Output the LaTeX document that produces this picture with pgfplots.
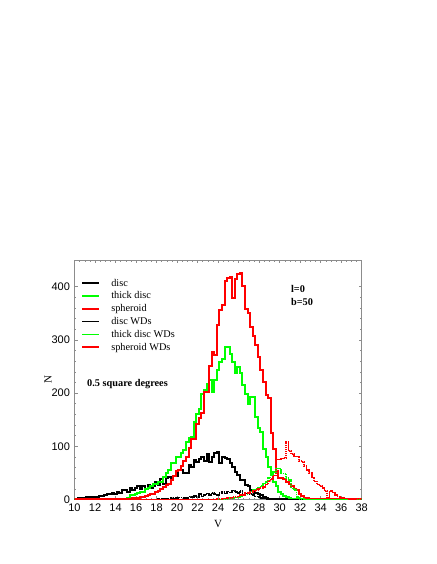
\documentclass[border=0pt]{standalone}
\usepackage{fontspec}
\setmainfont{Liberation Serif}
\setsansfont{Liberation Sans}
\usepackage{pgfplots}
\pgfplotsset{compat=1.18}
\definecolor{lgreen}{HTML}{00FF00}
\definecolor{lred}{HTML}{FF0000}
\definecolor{framegray}{HTML}{8C8C8C}

% histograms, 0.25 mag bins, given by bin centre
\pgfplotstableread{
V N
10 0
10.25 1
10.5 2
10.75 1
11 3
11.25 4
11.5 3
11.75 4
12 3
12.25 5
12.5 6
12.75 7
13 8
13.25 10
13.5 11
13.75 13
14 11
14.25 15
14.5 12
14.75 17
15 18
15.25 15
15.5 21
15.75 18
16 22
16.25 25
16.5 20
16.75 26
17 19
17.25 28
17.5 22
17.75 25
18 33
18.25 28
18.5 38
18.75 30
19 40
19.25 42
19.5 38
19.75 45
20 45
20.25 55
20.5 55
20.75 49
21 49
21.25 65
21.5 62
21.75 74
22 70
22.25 76
22.5 80
22.75 72
23 85
23.25 70
23.5 80
23.75 87
24 90
24.25 68
24.5 80
24.75 78
25 76
25.25 68
25.5 62
25.75 52
26 46
26.25 37
26.5 37
26.75 27
27 25
27.25 18
27.5 18
27.75 12
28 11
28.25 8
28.5 4
28.75 2
29 1
29.25 1
29.5 0
38.5 0
}\disc

\pgfplotstableread{
V N
10 0
14.75 1
15 1
15.25 3
15.5 8
15.75 8
16 10
16.25 12
16.5 15
16.75 15
17 20
17.25 22
17.5 25
17.75 30
18 30
18.25 33
18.5 33
18.75 43
19 49
19.25 55
19.5 68
19.75 68
20 80
20.25 80
20.5 88
20.75 93
21 108
21.25 115
21.5 118
21.75 146
22 160
22.25 171
22.5 199
22.75 205
23 218
23.25 224
23.5 202
23.75 224
24 243
24.25 259
24.5 265
24.75 287
25 287
25.25 274
25.5 259
25.75 237
26 249
26.25 237
26.5 215
26.75 199
27 180
27.25 193
27.5 193
27.75 155
28 134
28.25 127
28.5 94
28.75 80
29 62
29.25 46
29.5 33
29.75 25
30 15
30.25 10
30.5 6
30.75 4
31 2
31.25 1
31.5 0
38.5 0
}\thick

\pgfplotstableread{
V N
10 0
15.25 1
15.5 1
15.75 2
16 2
16.25 3
16.5 4
16.75 5
17 6
17.25 8
17.5 10
17.75 11
18 14
18.25 16
18.5 20
18.75 24
19 28
19.25 30
19.5 36
19.75 44
20 53
20.25 56
20.5 63
20.75 72
21 80
21.25 97
21.5 113
21.75 113
22 141
22.25 153
22.5 163
22.75 203
23 203
23.25 250
23.5 278
23.75 272
24 328
24.25 356
24.5 366
24.75 411
25 417
25.25 418
25.5 378
25.75 414
26 423
26.25 425
26.5 402
26.75 358
27 350
27.25 325
27.5 308
27.75 290
28 268
28.25 244
28.5 220
28.75 197
29 190
29.25 125
29.5 94
29.75 53
30 41
30.25 40
30.5 38
30.75 33
31 30
31.25 25
31.5 20
31.75 17
32 10
32.25 6
32.5 3
32.75 2
33 1
33.25 1
33.5 0
38.5 0
}\spheroid

\pgfplotstableread{
V N
10 0
18.25 1
18.5 1
18.75 2
19 2
19.25 1
19.5 3
19.75 2
20 3
20.25 4
20.5 4
20.75 3
21 3
21.25 6
21.5 5
21.75 7
22 4
22.25 10
22.5 6
22.75 9
23 11
23.25 8
23.5 12
23.75 10
24 9
24.25 12
24.5 14
24.75 11
25 15
25.25 13
25.5 17
25.75 14
26 12
26.25 16
26.5 12
26.75 11
27 13
27.25 10
27.5 8
27.75 6
28 5
28.25 3
28.5 2
28.75 1
29 1
29.25 0
38.5 0
}\discwd

\pgfplotstableread{
V N
10 0
24.5 1
24.75 1
25 2
25.25 3
25.5 2
25.75 4
26 5
26.25 6
26.5 8
26.75 10
27 12
27.25 15
27.5 18
27.75 20
28 22
28.25 25
28.5 30
28.75 33
29 40
29.25 48
29.5 52
29.75 58
30 58
30.25 49
30.5 49
30.75 40
31 37
31.25 21
31.5 18
31.75 5
32 1
32.25 1
32.5 0
38.5 0
}\thickwd

\pgfplotstableread{
V N
10 0
24 1
24.5 2
25 3
25.5 5
26 6
26.25 8
26.5 9
26.75 12
27 12
27.25 14
27.5 16
27.75 18
28 20
28.25 22
28.5 24
28.75 28
29 35
29.25 38
29.5 45
29.75 75
30 75
30.25 77
30.5 78
30.75 108
31 91
31.25 85
31.5 81
31.75 81
32 72
32.25 70
32.5 63
32.75 56
33 50
33.25 41
33.5 34
33.75 28
34 25
34.25 22
34.5 16
34.75 4
35 16
35.25 13
35.5 9
35.75 6
36 3
36.25 3
36.5 2
36.75 1
37 1
37.25 1
37.5 0
38.5 0
}\spheroidwd

\begin{document}
\begin{tikzpicture}
\begin{axis}[
  at={(0,0)}, anchor=south west,
  scale only axis, width=287.2pt, height=239.4pt,
  xmin=10, xmax=38, ymin=0, ymax=450,
  xtick={10,12,...,38}, ytick={0,100,...,400},
  minor x tick num=3, minor y tick num=4,
  tick align=inside, major tick length=3pt, minor tick length=1.6pt,
  axis line style={framegray, line width=0.6pt}, tick style={framegray, line width=0.5pt},
  tick label style={font=\sffamily\fontsize{11}{12}\selectfont},
  xticklabel style={yshift=-0.5pt},
  yticklabel style={xshift=-1pt},
  /pgf/number format/assume math mode=true,
  xlabel={V}, ylabel={N},
  label style={font=\fontsize{11}{12}\selectfont},
  xlabel style={yshift=-2pt},
  ylabel style={yshift=-7pt},
  const plot mark left,
  x filter/.expression={x-0.125},
  line join=miter,
  legend cell align=left,
  legend image code/.code={\draw[#1] (0pt,0pt) -- (17pt,0pt);},
  legend style={draw=none, fill=none, inner sep=0pt,
    at={(rel axis cs:0,1)}, anchor=north west, xshift=6.4pt, yshift=-16.6pt,
    font=\fontsize{10.3}{11}\selectfont, row sep=0pt, column sep=10pt,
    nodes={inner sep=1.15pt, text height=8pt, text depth=2.5pt}},
  solidh/.style={line width=2pt},
  wd/.style={line width=1.6pt, dash pattern=on 1.5pt off 0.5pt},
]
\addplot[black, solidh] table {\disc};
\addplot[lgreen, solidh] table {\thick};
\addplot[lred, solidh] table {\spheroid};
\addplot[black, wd] table {\discwd};
\addplot[lgreen, wd] table {\thickwd};
\addplot[lred, wd] table {\spheroidwd};
\legend{disc, thick disc, spheroid, disc WDs, thick disc WDs, spheroid WDs}
\node[anchor=west, font=\bfseries\fontsize{10.3}{11}\selectfont, inner sep=0pt] at (axis cs:31.1,395) {l=0};
\node[anchor=west, font=\bfseries\fontsize{10.3}{11}\selectfont, inner sep=0pt] at (axis cs:31.1,370.5) {b=50};
\node[anchor=west, font=\bfseries\fontsize{10.3}{11}\selectfont, inner sep=0pt] at (axis cs:11.22,216.7) {0.5 square degrees};
\end{axis}
\path (-74.5pt,-64.5pt) rectangle (361.5pt,499.5pt);
\end{tikzpicture}
\end{document}
